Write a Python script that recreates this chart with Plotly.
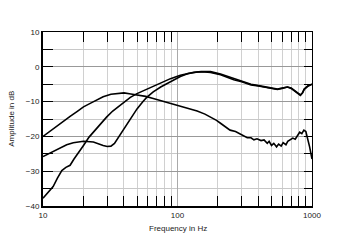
import plotly.graph_objects as go

freq_a = [10, 11, 12.6, 14, 16, 18, 20, 23, 25.8, 28, 32, 36, 40, 45, 50, 58, 66, 75, 88, 100,
          110, 125, 140, 160, 176, 195, 210, 230, 246, 270, 294, 310, 330, 352, 370, 390, 418,
          440, 465, 480, 500, 520, 545, 565, 590, 610, 640, 660, 690, 720, 750, 780, 810, 840,
          870, 900, 930, 960, 1000]
db_a = [-20, -18.8, -17.0, -15.8, -14.2, -12.8, -11.5, -10.3, -9.3, -8.6, -7.9, -7.6, -7.5,
        -7.8, -8.0, -8.5, -9.1, -9.7, -10.5, -11.1, -11.6, -12.2, -12.7, -13.6, -14.4, -15.4,
        -16.3, -17.4, -18.2, -18.6, -19.4, -19.7, -20.4, -20.4, -21.0, -20.7, -21.2, -21.0,
        -22.0, -21.4, -22.6, -22.0, -23.0, -22.2, -22.8, -21.8, -22.4, -21.4, -21.0, -20.5,
        -20.8, -19.6, -18.8, -19.2, -18.2, -18.6, -20.5, -23.0, -26.5]

freq_b = [10, 11, 11.9, 13.2, 15, 16.8, 20, 23.7, 25.8, 28, 30, 32, 34, 37, 40, 44.6, 50, 55,
          59, 66, 75, 88.7, 105, 120, 140, 160, 176, 209, 262, 300, 352, 400, 465, 553, 600,
          657, 700, 737, 790, 820, 850, 875, 930, 1000]
db_b = [-25.8, -25.0, -24.3, -23.4, -22.4, -21.8, -21.4, -21.6, -22.2, -22.6, -22.9, -22.8,
        -22.0, -19.8, -17.6, -14.8, -12.1, -10.1, -8.8, -7.2, -5.8, -4.3, -2.8, -1.9, -1.5,
        -1.5, -1.6, -2.3, -3.7, -4.3, -5.2, -5.5, -6.0, -6.5, -6.2, -5.8, -6.2, -6.9, -7.8,
        -8.2, -7.5, -6.5, -5.6, -5.0]

freq_c = [10, 10.5, 11.2, 11.9, 12.8, 13.8, 14.8, 15.9, 17, 18.5, 20, 22, 23.7, 26.5, 29.8, 33,
          37.5, 44.6, 50, 58, 66, 77, 88.7, 105, 132, 150, 176, 209, 262, 300, 352, 400, 465,
          553, 600, 657, 700, 737, 790, 820, 850, 875, 930, 1000]
db_c = [-37.8, -36.8, -35.6, -34.4, -32.0, -29.8, -28.9, -28.3, -26.5, -24.6, -22.6, -20.2,
        -18.7, -16.5, -14.4, -12.7, -11.0, -8.8, -7.7, -6.6, -5.6, -4.5, -3.4, -2.4, -1.6,
        -1.4, -1.4, -2.1, -3.4, -4.1, -5.0, -5.4, -5.9, -6.4, -6.1, -5.8, -6.1, -6.8, -7.8,
        -8.1, -7.5, -6.4, -5.5, -5.0]

x_ticks = [10, 100, 1000]
x_minor = [20, 30, 40, 50, 60, 70, 80, 90, 200, 300, 400, 500, 600, 700, 800, 900]
y_ticks = [10, 0, -10, -20, -30, -40]
y_minor = [5, -5, -15, -25, -35]

FONT = "Liberation Sans, Arial, sans-serif"

fig = go.Figure()
for fx, fy in [(freq_a, db_a), (freq_b, db_b), (freq_c, db_c)]:
    fig.add_trace(go.Scatter(x=fx, y=fy, mode="lines",
                             line=dict(color="black", width=1.6), showlegend=False))
# invisible trace for top/right overlay axes
fig.add_trace(go.Scatter(x=[10, 1000], y=[-40, 10], xaxis="x2", yaxis="y2",
                         mode="lines", line=dict(width=0), showlegend=False, hoverinfo="skip"))

axis_common = dict(showline=True, linecolor="black", zeroline=False)

fig.update_layout(
    width=350, height=244,
    margin=dict(l=43, r=38, t=32, b=38),
    paper_bgcolor="white", plot_bgcolor="white",
    font=dict(family=FONT, size=8, color="#222"),
    xaxis=dict(type="log", range=[1, 3], tickvals=x_ticks, ticktext=["10", "100", "1000"],
               ticks="", showgrid=True, gridcolor="#aaaaaa", gridwidth=1,
               linewidth=2, **axis_common,
               minor=dict(tickvals=x_minor, ticks="inside", ticklen=10, tickwidth=1,
                          tickcolor="black", showgrid=True, gridcolor="#d0d0d0", gridwidth=1),
               tickfont=dict(size=8, color="#222")),
    yaxis=dict(range=[-40, 10], tickvals=y_ticks, ticks="inside", ticklen=10, tickcolor="black",
               showgrid=True, gridcolor="#999999", gridwidth=1, linewidth=2, **axis_common,
               minor=dict(tickvals=y_minor, ticks="inside", ticklen=10, tickwidth=1,
                          tickcolor="black", showgrid=True, gridcolor="#c8c8c8", gridwidth=1),
               tickfont=dict(size=8, color="#222")),
    xaxis2=dict(type="log", range=[1, 3], overlaying="x", side="top", showticklabels=False,
                ticks="", showgrid=False, linewidth=1.2, **axis_common,
                minor=dict(tickvals=x_minor, ticks="inside", ticklen=10, tickwidth=1,
                           tickcolor="black", showgrid=False)),
    yaxis2=dict(range=[-40, 10], overlaying="y", side="right", showticklabels=False,
                tickvals=y_ticks, ticks="inside", ticklen=8, tickcolor="black",
                showgrid=False, linewidth=1.2, **axis_common,
                minor=dict(tickvals=y_minor, ticks="inside", ticklen=8, tickwidth=1,
                           tickcolor="black", showgrid=False)),
    annotations=[
        dict(text="Frequency in Hz", xref="paper", yref="paper", x=0.5, y=-0.13,
             xanchor="center", yanchor="middle", showarrow=False,
             font=dict(size=8, color="#222")),
        dict(text="Amplitude in dB", xref="paper", yref="paper", x=-0.12, y=0.5,
             xanchor="center", yanchor="middle", textangle=-90, showarrow=False,
             font=dict(size=8, color="#222")),
    ],
)

fig.write_html("out.html")
